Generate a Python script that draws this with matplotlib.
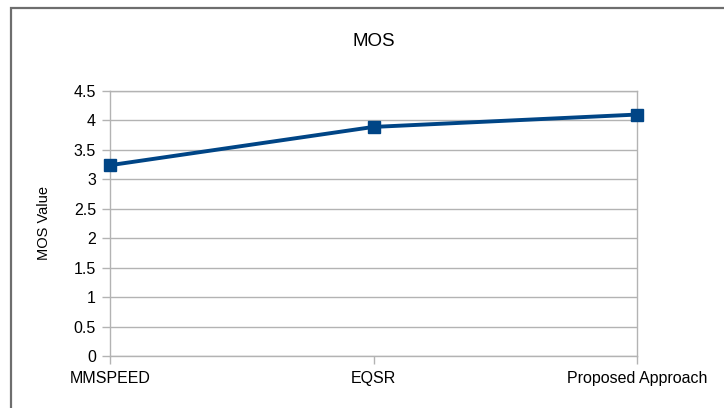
import matplotlib
matplotlib.use("Agg")
import matplotlib.pyplot as plt
from matplotlib.patches import Rectangle

categories = ["MMSPEED", "EQSR", "Proposed Approach"]
mos_values = [3.24, 3.89, 4.1]
y_ticks = [0, 0.5, 1, 1.5, 2, 2.5, 3, 3.5, 4, 4.5]
y_tick_labels = ["0", "0.5", "1", "1.5", "2", "2.5", "3", "3.5", "4", "4.5"]

plt.rcParams["font.family"] = ["Liberation Sans", "DejaVu Sans"]

W, H = 724, 408
fig = plt.figure(figsize=(W / 100, H / 100), dpi=100)
fig.patch.set_facecolor("white")

# outer chart frame
fig.patches.append(Rectangle((10.5 / W, -0.1), 1.2, (H - 7.5) / H + 0.1,
                             transform=fig.transFigure, fill=False,
                             edgecolor="#6e6e6e", linewidth=1.6))

left, right, top, bottom = 110, 637, 91, 356
ax = fig.add_axes([left / W, 1 - bottom / H, (right - left) / W, (bottom - top) / H])

x = list(range(len(categories)))
ax.plot(x, mos_values, color="#004586", linewidth=2.8, marker="s",
        markersize=9, markerfacecolor="#004586", markeredgecolor="#004586",
        zorder=3, clip_on=False)

ax.set_xlim(0, len(categories) - 1)
ax.set_ylim(0, 4.5)
ax.set_yticks(y_ticks)
ax.set_yticklabels(y_tick_labels)
ax.set_xticks(x)
ax.set_xticklabels(categories)

ax.yaxis.grid(True, color="#b3b3b3", linewidth=1)
ax.set_axisbelow(True)
for side in ["left", "right", "top", "bottom"]:
    ax.spines[side].set_color("#b3b3b3")
    ax.spines[side].set_linewidth(1)

ax.tick_params(axis="both", colors="#b3b3b3", labelcolor="black",
               labelsize=11.5, length=6, width=1)
ax.tick_params(axis="x", pad=5)
ax.tick_params(axis="y", pad=4)

ax.yaxis.set_label_coords((44 - left) / (right - left), (bottom - 235) / (bottom - top))
ax.set_ylabel("MOS Value", fontsize=10.5, va="center")
fig.text((left + right) / 2 / W, 1 - 41 / H, "MOS", ha="center", va="center",
         fontsize=13.5)

fig.savefig("out.png", dpi=100)
